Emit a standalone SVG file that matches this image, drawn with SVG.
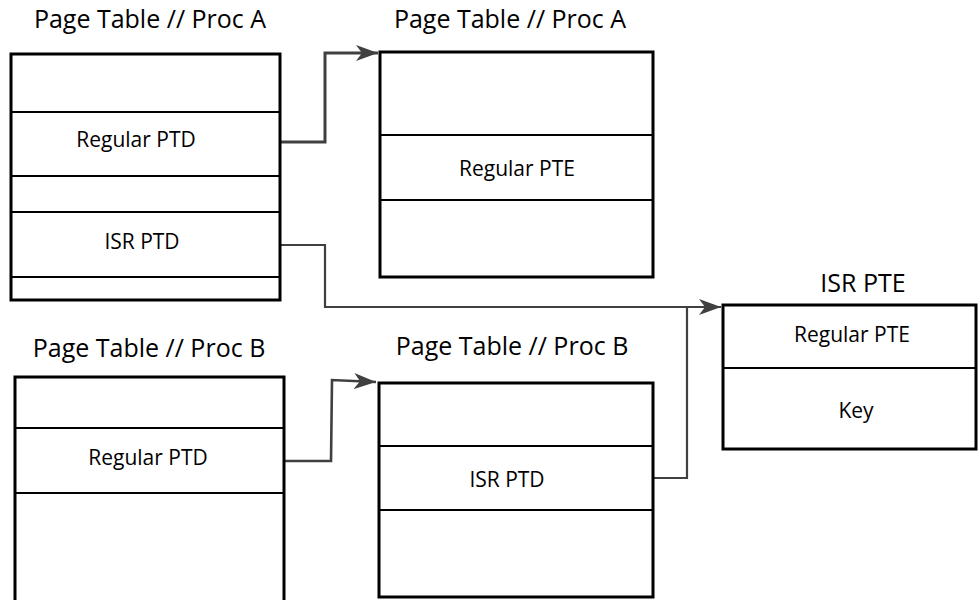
<svg xmlns="http://www.w3.org/2000/svg" width="978" height="600" viewBox="0 0 978 600">
<style>
.box{fill:#fff;stroke:#000;stroke-width:3}
.div{stroke:#000;stroke-width:2}
.title{font-family:"Open Sans",sans-serif;font-size:25px;fill:#000;text-anchor:middle}
.lbl{font-family:"Open Sans",sans-serif;font-size:21px;fill:#000;text-anchor:middle}
.conn{fill:none;stroke:#404040;stroke-width:2.2}
</style>
<defs>
<marker id="arr" markerWidth="24" markerHeight="16" refX="22" refY="8" orient="auto" markerUnits="userSpaceOnUse">
<path d="M0,0 L22,8 L0,16 L6,8 Z" fill="#404040"/>
</marker>
</defs>
<rect width="978" height="600" fill="#fff"/>
<g id="connectors">
<path class="conn" d="M280,142 L325,142 L325,53 L378,53" marker-end="url(#arr)" style="stroke-width:3"/>
<path class="conn" d="M280,245 L325,245 L325,307 L721,307" marker-end="url(#arr)"/>
<path class="conn" d="M284,461 L331,461 L332,380 L376,382" marker-end="url(#arr)" style="stroke-width:2.6"/>
<path class="conn" d="M653,478 L687,478 L687,307"/>
</g>
<g id="tableA1">
<text class="title" x="150" y="28">Page Table // Proc A</text>
<rect class="box" x="11" y="54" width="269" height="246"/>
<line class="div" x1="11" y1="112" x2="280" y2="112"/>
<line class="div" x1="11" y1="176" x2="280" y2="176"/>
<line class="div" x1="11" y1="212" x2="280" y2="212"/>
<line class="div" x1="11" y1="277" x2="280" y2="277"/>
<text class="lbl" x="136" y="147">Regular PTD</text>
<text class="lbl" x="142" y="249">ISR PTD</text>
</g>
<g id="tableA2">
<text class="title" x="510" y="28">Page Table // Proc A</text>
<rect class="box" x="380" y="52" width="273" height="225"/>
<line class="div" x1="380" y1="135" x2="653" y2="135"/>
<line class="div" x1="380" y1="200" x2="653" y2="200"/>
<text class="lbl" x="517" y="176">Regular PTE</text>
</g>
<g id="isrPTE">
<text class="title" x="863" y="292">ISR PTE</text>
<rect class="box" x="723" y="305" width="253" height="144"/>
<line class="div" x1="723" y1="368" x2="976" y2="368"/>
<text class="lbl" x="852" y="342">Regular PTE</text>
<text class="lbl" x="856" y="418">Key</text>
</g>
<g id="tableB1">
<text class="title" x="149" y="357">Page Table // Proc B</text>
<rect class="box" x="15" y="377" width="269" height="230"/>
<line class="div" x1="15" y1="428" x2="284" y2="428"/>
<line class="div" x1="15" y1="493" x2="284" y2="493"/>
<text class="lbl" x="148" y="465">Regular PTD</text>
</g>
<g id="tableB2">
<text class="title" x="512" y="355">Page Table // Proc B</text>
<rect class="box" x="379" y="383" width="274" height="214"/>
<line class="div" x1="379" y1="446" x2="653" y2="446"/>
<line class="div" x1="379" y1="510" x2="653" y2="510"/>
<text class="lbl" x="507" y="487">ISR PTD</text>
</g>
</svg>
